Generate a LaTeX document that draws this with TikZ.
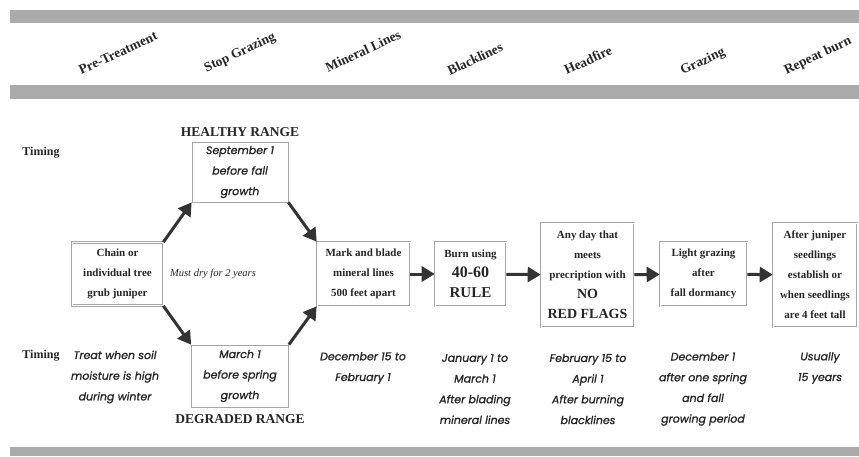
\documentclass[tikz,border=0pt]{standalone}
\usepackage{fontspec}
\setmainfont{Liberation Serif}
\newfontfamily\comicfont[FakeBold=1.2]{Poppins}
\usetikzlibrary{arrows.meta}

\begin{document}
\begin{tikzpicture}[x=10pt,y=10pt]
\tikzstyle{every node}+=[inner sep=0pt, text=black!85]
\tikzstyle{band}=[fill=black!33]
\tikzstyle{phase}=[rotate=25, font=\fontsize{13.5}{16}\selectfont\bfseries]
\tikzstyle{rangelbl}=[font=\fontsize{13.5}{16}\selectfont\bfseries]
\tikzstyle{timinglbl}=[font=\fontsize{12}{14}\selectfont\bfseries]
\tikzstyle{stepbox}=[draw=black!35, double=white, double distance=1pt, line width=0.6pt, align=center, font=\fontsize{11}{20}\selectfont\bfseries]
\tikzstyle{datebox}=[draw=black!35, line width=0.7pt, align=center, font=\fontsize{11}{20.5}\selectfont\comicfont\itshape]
\tikzstyle{when}=[align=center, font=\fontsize{11}{20.7}\selectfont\comicfont\itshape]
\tikzstyle{flow}=[draw=black!80, line width=3pt, -{Triangle[length=13pt,width=15pt]}]
\useasboundingbox (0,0) rectangle (85.9,-45.6);
\fill [band] (1,-1) rectangle (85.9,-2.3);
\fill [band] (1,-8.5) rectangle (85.9,-9.9);
\fill [band] (1,-44.7) rectangle (85.9,-45.6);
\node [phase] (pre) at (11.8,-5.3) {Pre-Treatment};
\node [phase] (stop) at (24.0,-5.3) {Stop Grazing};
\node [phase] (mineral) at (36.3,-5.1) {Mineral Lines};
\node [phase] (blackl) at (47.5,-5.9) {Blacklines};
\node [phase] (head) at (58.8,-6.0) {Headfire};
\node [phase] (graze) at (70.3,-6.2) {Grazing};
\node [phase] (repeat) at (81.8,-5.6) {Repeat burn};
\node [timinglbl] (timing) at (4.1,-15.3) {Timing};
\node [timinglbl] (timingb) at (4.1,-35.6) {Timing};
\node [stepbox, minimum width=91pt, minimum height=63pt] (chain) at (11.75,-27.4) {Chain or\\individual tree\\grub juniper};
\node [datebox, minimum width=96pt, minimum height=60pt] (healthy) at (24.0,-17.2) {September 1\\before fall\\growth};
\node [datebox, minimum width=97pt, minimum height=62pt] (degraded) at (24.0,-37.6) {March 1\\before spring\\growth};
\node [rangelbl] (healthylbl) at (24.0,-13.2) {HEALTHY RANGE};
\node [rangelbl] (degradedlbl) at (24.0,-41.9) {DEGRADED RANGE};
\node [font=\fontsize{10.5}{12}\selectfont\itshape] (dry) at (21.3,-27.4) {Must dry for 2 years};
\node [stepbox, minimum width=93pt, minimum height=64pt] (mark) at (36.35,-27.4) {Mark and blade\\mineral lines\\500 feet apart};
\node [stepbox, minimum width=71pt, minimum height=64pt] (burn) at (47.05,-27.4) {Burn using\\{\fontsize{16}{20}\selectfont 40-60}\\{\fontsize{15}{20}\selectfont RULE}};
\node [stepbox, minimum width=93pt, minimum height=104pt] (anyday) at (58.75,-27.5) {Any day that\\meets\\precription with\\{\fontsize{14}{20}\selectfont NO}\\{\fontsize{14}{20}\selectfont RED FLAGS}};
\node [stepbox, minimum width=87pt, minimum height=64pt] (light) at (70.35,-27.4) {Light grazing\\after\\fall dormancy};
\node [stepbox, minimum width=84pt, minimum height=104pt] (after) at (81.5,-27.5) {After juniper\\seedlings\\establish or\\when seedlings\\are 4 feet tall};
\node [when] (treat) at (11.5,-37.7) {Treat when soil\\moisture is high\\during winter};
\node [when] (decfifteen) at (36.3,-36.8) {December 15 to\\February 1};
\node [when] (janone) at (47.5,-38.9) {January 1 to\\March 1\\After blading\\mineral lines};
\node [when] (febfifteen) at (58.8,-38.9) {February 15 to\\April 1\\After burning\\blacklines};
\node [when] (decone) at (70.3,-38.9) {December 1\\after one spring\\and fall\\growing period};
\node [when] (usually) at (82.0,-36.8) {Usually\\15 years};
\draw [flow] (chain.north east) -- (healthy.south west);
\draw [flow] (healthy.south east) -- (mark.north west);
\draw [flow] (chain.south east) -- (degraded.north west);
\draw [flow] (degraded.north east) -- (mark.south west);
\draw [flow] (mark) -- (burn);
\draw [flow] (burn) -- (anyday);
\draw [flow] (anyday) -- (light);
\draw [flow] (light) -- (after);
\end{tikzpicture}
\end{document}
